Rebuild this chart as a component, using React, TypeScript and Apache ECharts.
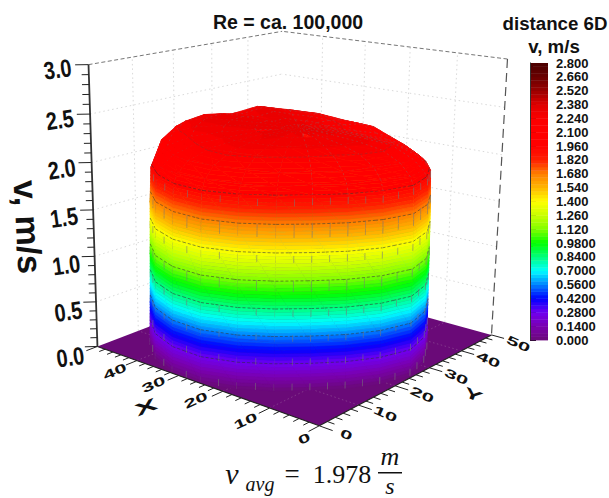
import React, { useEffect, useRef } from "react";
import * as echarts from "echarts";

const FONT = "'Liberation Sans', Arial, sans-serif";
const SERIF = "'Liberation Serif', 'DejaVu Serif', serif";

const titleText = "Re = ca. 100,000";
const legendTitle = ["distance 6D", "v, m/s"];
const zAxisLabel = "v, m/s";
const legendTicks = ["0.000","0.1400","0.2800","0.4200","0.5600","0.7000","0.8400","0.9800","1.120","1.260","1.400","1.540","1.680","1.820","1.960","2.100","2.240","2.380","2.520","2.660","2.800"];
const xTicksShown = [0, 10, 20, 30, 40];
const xLabelShift = [[-15, 13], [-24, 13], [-27, 9], [-25, 9], [-22, 11]];
const yTicksShown = [0, 10, 20, 30, 40, 50];
const zTicks = [0, 0.5, 1, 1.5, 2, 2.5, 3];

// colour scale
const scaleStops = [0, 0.14, 0.28, 0.42, 0.56, 0.7, 0.84, 0.98, 1.12, 1.26, 1.4, 1.54, 1.68, 1.82, 1.96, 2.1, 2.24, 2.38, 2.52, 2.66, 2.8];
const scaleColors = ["#6a0a78","#7a00b0","#7000f0","#0000ff","#0080ff","#00ffff","#00ff80","#00ff00","#80ff00","#c8ff00","#ffff00","#ffb800","#ff8000","#ff2000","#ff0000","#ff0000","#fc0000","#e00000","#9a0000","#6a0000","#4a0000"];

// surface: polar mesh around the pipe axis (angle step 15 deg)
const centre = [25, 25];
const angleStep = 15;
const outlineRadius = [25.2,25.2,25.2,25.2,25,24.8,24.4,23.4,22.6,22.3,22.7,23.4,24,23,22,21.5,22,23.2,24.5,25.2,25.5,25.6,25.3,25.2];
const ringFractions = [1.02, 1.012, 1.006, 1.0, 0.99, 0.96, 0.88, 0.72, 0.52, 0.3, 0.12, 0];
const heightRows = [
  [0,0,0,0,0,0,0,0,0,0,0,0,0,0,0,0,0,0,0,0,0,0,0,0],
  [0.50,0.50,0.50,0.50,0.50,0.50,0.50,0.52,0.52,0.50,0.50,0.52,0.52,0.50,0.50,0.50,0.50,0.52,0.50,0.50,0.50,0.48,0.48,0.50],
  [1.05,1.05,1.05,1.05,1.05,1.05,1.04,1.04,1.05,1.06,1.06,1.06,1.05,1.04,1.05,1.05,1.05,1.06,1.05,1.04,1.04,1.02,1.03,1.05],
  [1.62,1.62,1.62,1.62,1.60,1.60,1.60,1.58,1.58,1.60,1.60,1.62,1.62,1.60,1.62,1.62,1.60,1.62,1.62,1.60,1.58,1.58,1.60,1.62],
  [2.13,2.09,2.15,2.12,2.08,2.03,1.96,1.96,1.94,1.94,1.94,1.94,1.95,1.96,1.95,1.96,1.95,1.96,1.97,1.96,1.93,1.94,2.02,2.09],
  [2.22,2.15,2.22,2.18,2.14,2.07,2.04,1.99,1.97,1.98,2.00,2.02,2.04,2.06,2.04,2.05,2.03,2.05,2.06,2.05,2.02,2.04,2.14,2.20],
  [2.28,2.23,2.29,2.24,2.20,2.14,2.12,2.06,2.05,2.06,2.09,2.12,2.15,2.16,2.14,2.15,2.14,2.16,2.17,2.16,2.14,2.16,2.22,2.27],
  [2.32,2.28,2.33,2.28,2.25,2.20,2.19,2.14,2.13,2.15,2.19,2.24,2.25,2.24,2.23,2.24,2.24,2.25,2.26,2.25,2.24,2.25,2.29,2.32],
  [2.33,2.30,2.34,2.30,2.28,2.25,2.23,2.20,2.20,2.22,2.25,2.28,2.29,2.28,2.28,2.29,2.28,2.29,2.30,2.29,2.28,2.29,2.31,2.33],
  [2.33,2.31,2.33,2.31,2.30,2.29,2.27,2.27,2.27,2.28,2.30,2.31,2.31,2.30,2.31,2.31,2.30,2.31,2.32,2.31,2.31,2.31,2.32,2.33],
  [2.32,2.31,2.32,2.31,2.32,2.31,2.31,2.30,2.30,2.31,2.32,2.31,2.32,2.31,2.32,2.31,2.32,2.31,2.32,2.31,2.32,2.31,2.32,2.31],
  [2.32,2.32,2.32,2.32,2.32,2.32,2.32,2.32,2.32,2.32,2.32,2.32,2.32,2.32,2.32,2.32,2.32,2.32,2.32,2.32,2.32,2.32,2.32,2.32],
];
const contourLevels = [0.28, 0.56, 0.84, 1.12, 1.4, 1.68, 1.96, 2.24];
const bandStep = 0.035;

// box corners of the 3D axes: [x, y, z] -> [screen x, screen y]
const calibration = [
  [0, 0, 0, 318, 427],
  [50, 0, 0, 99, 346],
  [0, 50, 0, 493, 333],
  [50, 50, 0, 278, 278],
  [50, 0, 3, 88, 64],
  [0, 50, 3, 507, 60],
  [50, 50, 3, 283, 31],
];

function solveProjection(): number[] {
  const n = 11;
  const M = Array.from({ length: n }, () => new Array(n + 1).fill(0));
  const add = (r: number[], b: number) => {
    for (let a = 0; a < n; a++) {
      for (let c = 0; c < n; c++) M[a][c] += r[a] * r[c];
      M[a][n] += r[a] * b;
    }
  };
  calibration.forEach(([x, y, z, u, v]) => {
    add([x, y, z, 1, 0, 0, 0, 0, -u * x, -u * y, -u * z], u);
    add([0, 0, 0, 0, x, y, z, 1, -v * x, -v * y, -v * z], v);
  });
  for (let i = 0; i < n; i++) {
    let p = i;
    for (let r = i + 1; r < n; r++) if (Math.abs(M[r][i]) > Math.abs(M[p][i])) p = r;
    [M[i], M[p]] = [M[p], M[i]];
    for (let r = 0; r < n; r++) {
      if (r === i) continue;
      const f = M[r][i] / M[i][i];
      for (let c = i; c <= n; c++) M[r][c] -= f * M[i][c];
    }
  }
  return M.map((row, i) => row[n] / row[i]);
}
const H = solveProjection();
const project = (x: number, y: number, z: number) => {
  const w = H[8] * x + H[9] * y + H[10] * z + 1;
  return [
    (H[0] * x + H[1] * y + H[2] * z + H[3]) / w,
    (H[4] * x + H[5] * y + H[6] * z + H[7]) / w,
  ];
};

function hexToRgb(h: string) {
  return [parseInt(h.slice(1, 3), 16), parseInt(h.slice(3, 5), 16), parseInt(h.slice(5, 7), 16)];
}
function colourAt(v: number) {
  let k = 0;
  while (k < scaleStops.length - 2 && v > scaleStops[k + 1]) k++;
  const t = Math.max(0, Math.min(1, (v - scaleStops[k]) / (scaleStops[k + 1] - scaleStops[k])));
  const a = hexToRgb(scaleColors[k]);
  const b = hexToRgb(scaleColors[k + 1]);
  return `rgb(${a.map((c, i) => Math.round(c + (b[i] - c) * t)).join(",")})`;
}

type P3 = number[];
function meshPoint(i: number, j: number): P3 {
  const a = ((i % 24) * angleStep * Math.PI) / 180;
  const r = outlineRadius[i % 24] * ringFractions[j];
  return [centre[0] + r * Math.cos(a), centre[1] + r * Math.sin(a), heightRows[j][i % 24]];
}
function clipZ(poly: P3[], level: number, keepAbove: boolean): P3[] {
  const out: P3[] = [];
  for (let k = 0; k < poly.length; k++) {
    const a = poly[k];
    const b = poly[(k + 1) % poly.length];
    const ina = keepAbove ? a[2] >= level : a[2] <= level;
    const inb = keepAbove ? b[2] >= level : b[2] <= level;
    if (ina) out.push(a);
    if (ina !== inb) {
      const t = (level - a[2]) / (b[2] - a[2]);
      out.push([a[0] + (b[0] - a[0]) * t, a[1] + (b[1] - a[1]) * t, level]);
    }
  }
  return out;
}
function contourSegment(tri: P3[], level: number): number[][] | null {
  const pts: number[][] = [];
  for (let k = 0; k < 3; k++) {
    const a = tri[k];
    const b = tri[(k + 1) % 3];
    if ((a[2] < level) !== (b[2] < level)) {
      const t = (level - a[2]) / (b[2] - a[2]);
      pts.push(project(a[0] + (b[0] - a[0]) * t, a[1] + (b[1] - a[1]) * t, level));
    }
  }
  return pts.length === 2 ? pts : null;
}

const cells: { i: number; j: number; depth: number }[] = [];
for (let j = 0; j < ringFractions.length - 1; j++) {
  for (let i = 0; i < heightRows[0].length; i++) {
    const q = [meshPoint(i, j), meshPoint(i + 1, j), meshPoint(i + 1, j + 1), meshPoint(i, j + 1)];
    const depth = q.reduce((s, p) => s + p[0] + p[1], 0) / 4;
    cells.push({ i, j, depth });
  }
}
cells.sort((a, b) => b.depth - a.depth);

function renderCell(params: any) {
  const { i, j } = cells[params.dataIndex];
  const a = meshPoint(i, j);
  const b = meshPoint(i + 1, j);
  const c = meshPoint(i + 1, j + 1);
  const d = meshPoint(i, j + 1);
  const children: any[] = [];
  [[a, b, c], [a, c, d]].forEach((tri) => {
    const zs = tri.map((p) => p[2]);
    const lo = Math.floor(Math.min(...zs) / bandStep);
    const hi = Math.ceil(Math.max(...zs) / bandStep);
    for (let k = lo; k < hi; k++) {
      const z0 = k * bandStep;
      const z1 = z0 + bandStep;
      const poly = clipZ(clipZ(tri, z0, true), z1, false);
      if (poly.length < 3) continue;
      const col = colourAt((z0 + z1) / 2);
      children.push({
        type: "polygon",
        silent: true,
        shape: { points: poly.map((p) => project(p[0], p[1], p[2])) },
        style: { fill: col, stroke: col, lineWidth: 0.5 },
      });
    }
  });
  [[a, b, c], [a, c, d]].forEach((tri) => {
    contourLevels.forEach((l) => {
      const seg = contourSegment(tri, l);
      if (seg) {
        children.push({
          type: "line",
          silent: true,
          shape: { x1: seg[0][0], y1: seg[0][1], x2: seg[1][0], y2: seg[1][1] },
          style: { stroke: l > 2 ? "rgba(110,60,60,0.5)" : "rgba(50,50,50,0.75)", lineWidth: 0.7, lineDash: [3, 2] },
        });
      }
    });
  });
  // mesh lines
  const pa = project(a[0], a[1], a[2]);
  const pd = project(d[0], d[1], d[2]);
  const pb = project(b[0], b[1], b[2]);
  const onWall = j < 4;
  children.push({
    type: "line",
    silent: true,
    shape: { x1: pa[0], y1: pa[1], x2: pd[0], y2: pd[1] },
    style: { stroke: "rgba(120,120,120,0.65)", lineWidth: onWall ? 0.9 : 0.5, lineDash: onWall ? [7, 18] : [2, 3] },
  });
  if (!onWall) {
    children.push({
      type: "line",
      silent: true,
      shape: { x1: pa[0], y1: pa[1], x2: pb[0], y2: pb[1] },
      style: { stroke: "rgba(120,120,120,0.55)", lineWidth: 0.5, lineDash: [2, 3] },
    });
  } else {
    const mid1 = [(a[0] + b[0]) / 2, (a[1] + b[1]) / 2, (a[2] + b[2]) / 2];
    const mid2 = [(d[0] + c[0]) / 2, (d[1] + c[1]) / 2, (d[2] + c[2]) / 2];
    const m1 = project(mid1[0], mid1[1], mid1[2]);
    const m2 = project(mid2[0], mid2[1], mid2[2]);
    children.push({
      type: "line",
      silent: true,
      shape: { x1: m1[0], y1: m1[1], x2: m2[0], y2: m2[1] },
      style: { stroke: "rgba(120,120,120,0.6)", lineWidth: 0.9, lineDash: [7, 18] },
    });
  }
  return { type: "group", children };
}

const line3 = (a: number[], b: number[], style: any) => {
  const p = project(a[0], a[1], a[2]);
  const q = project(b[0], b[1], b[2]);
  return { type: "line", silent: true, shape: { x1: p[0], y1: p[1], x2: q[0], y2: q[1] }, style };
};

function renderBox() {
  const children: any[] = [];
  const floor = [[0, 0, 0], [50, 0, 0], [50, 50, 0], [0, 50, 0]].map((p) => project(p[0], p[1], p[2]));
  const grid = { stroke: "#cfcfcf", lineWidth: 0.8, lineDash: [1.5, 3] };
  for (let z = 0.5; z < 3; z += 0.5) {
    children.push(line3([50, 0, z], [50, 50, z], grid));
    children.push(line3([0, 50, z], [50, 50, z], grid));
  }
  for (let v = 10; v < 50; v += 10) {
    children.push(line3([50, v, 0], [50, v, 3], grid));
    children.push(line3([v, 50, 0], [v, 50, 3], grid));
  }
  children.push({ type: "polygon", silent: true, shape: { points: floor }, style: { fill: "#6a0a78" } });
  const floorGrid = { stroke: "rgba(170,130,170,0.55)", lineWidth: 0.7, lineDash: [1.5, 2.5] };
  for (let v = 10; v < 50; v += 10) {
    children.push(line3([v, 0, 0], [v, 50, 0], floorGrid));
    children.push(line3([0, v, 0], [50, v, 0], floorGrid));
  }
  const dash = { stroke: "#666", lineWidth: 0.9, lineDash: [4, 2.5] };
  children.push(line3([50, 0, 3], [50, 50, 3], dash));
  children.push(line3([0, 50, 3], [50, 50, 3], dash));
  children.push(line3([0, 50, 3], [0, 50, 0], { stroke: "#555", lineWidth: 1.2, lineDash: [9, 5] }));
  return { type: "group", children };
}

function renderAxes() {
  const children: any[] = [];
  const dark = { stroke: "#222", lineWidth: 1 };
  children.push(line3([0, 0, 0], [50, 0, 0], { stroke: "#222", lineWidth: 1.2 }));
  children.push(line3([0, 0, 0], [0, 50, 0], { stroke: "#222", lineWidth: 1.2 }));
  children.push(line3([50, 0, 0], [50, 0, 3], { stroke: "#333", lineWidth: 1.8 }));
  for (let v = 0; v <= 50; v += 2) {
    const major = v % 10 === 0;
    const len = major ? 2.6 : 1.4;
    children.push(line3([v, 0, 0], [v, -len, 0], dark));
    children.push(line3([0, v, 0], [-len, v, 0], dark));
  }
  for (let k = 0; k <= 30; k++) {
    const z = k / 10;
    const len = k % 5 === 0 ? 2.6 : 1.4;
    children.push(line3([50, 0, z], [50 + len * 0.6, -len * 0.6, z], dark));
  }
  const label = (t: string, x: number, y: number, rot: number, sx: number, sy: number, size: number) => ({
    type: "text",
    silent: true,
    x,
    y,
    rotation: (rot * Math.PI) / 180,
    scaleX: sx,
    scaleY: sy,
    style: { text: t, fill: "#111", fontFamily: FONT, fontWeight: "bold", fontSize: size, align: "center", verticalAlign: "middle", textAlign: "center", textVerticalAlign: "middle" },
  });
  xTicksShown.forEach((v, n) => {
    const p = project(v, 0, 0);
    children.push(label(String(v), p[0] + xLabelShift[n][0], p[1] + xLabelShift[n][1], 24, 1.3, 0.72, 17));
  });
  yTicksShown.forEach((v) => {
    const p = project(0, v, 0);
    children.push(label(String(v), p[0] + 27, p[1] + 9, -24, 1.3, 0.72, 17));
  });
  zTicks.forEach((v) => {
    const p = project(50, 0, v);
    children.push(label(v.toFixed(1), p[0] - 27 - v * 1.33, p[1] + 11 - v * 2, 8, 1, 1.25, 20));
  });
  return { type: "group", children };
}

const graphicText = (text: string, x: number, y: number, font: any, extra: any = {}) => ({
  type: "text",
  x,
  y,
  silent: true,
  ...extra,
  style: { text, fill: "#111", align: "center", verticalAlign: "middle", textAlign: "center", textVerticalAlign: "middle", ...font },
});

export default function App() {
  const ref = useRef<HTMLDivElement>(null);
  useEffect(() => {
    document.body.style.margin = "0";
    const chart = echarts.init(ref.current!, undefined, { renderer: "svg" });
    const bands: number[][] = [];
    for (let k = 0; k < 80; k++) bands.push([k * bandStep, (k + 1) * bandStep]);
    const bold = (s: number) => ({ fontFamily: FONT, fontWeight: "bold", fontSize: s });
    chart.setOption({
      animation: false,
      backgroundColor: "#fff",
      grid: { left: 530, top: 63, width: 18, height: 277, containLabel: false },
      xAxis: { type: "value", min: 0, max: 1, show: false },
      yAxis: {
        type: "value",
        position: "right",
        min: 0,
        max: 2.8,
        interval: 0.14,
        axisLine: { show: true, lineStyle: { color: "#111", width: 1 } },
        axisTick: { show: true, length: 6, inside: false, lineStyle: { color: "#111" } },
        minorTick: { show: true, splitNumber: 5, length: 3, lineStyle: { color: "#111" } },
        splitLine: { show: false },
        axisLabel: {
          show: true,
          margin: 8,
          fontFamily: FONT,
          fontWeight: "bold",
          fontSize: 13,
          lineHeight: 13,
          color: "#111",
          formatter: (_v: number, idx: number) => legendTicks[idx],
        },
      },
      series: [
        { type: "custom", coordinateSystem: "none", z: 1, silent: true, clip: false, progressive: 0, data: [0], renderItem: renderBox },
        { type: "custom", coordinateSystem: "none", z: 2, silent: true, clip: false, progressive: 0, data: cells.map((c) => [c.i, c.j, c.depth]), renderItem: renderCell },
        { type: "custom", coordinateSystem: "none", z: 3, silent: true, clip: false, progressive: 0, data: [0], renderItem: renderAxes },
        {
          type: "custom",
          coordinateSystem: "cartesian2d",
          z: 4,
          silent: true,
          progressive: 0,
          data: bands,
          encode: { y: [0, 1] },
          renderItem: (params: any, api: any) => {
            const lo = api.value(0);
            const hi = api.value(1);
            const p = api.coord([0, hi]);
            const q = api.coord([1, lo]);
            return { type: "rect", shape: { x: p[0], y: p[1], width: q[0] - p[0], height: q[1] - p[1] + 0.4 }, style: { fill: colourAt((lo + hi) / 2) } };
          },
        },
      ],
      graphic: [
        graphicText(titleText, 288, 22, bold(19.5)),
        graphicText(legendTitle[0], 555, 23, bold(18.7)),
        graphicText(legendTitle[1], 554, 46, bold(18.7)),
        graphicText(zAxisLabel, 28, 227, bold(34), { rotation: (-87 * Math.PI) / 180 }),
        graphicText("X", 146, 407, bold(24), { rotation: (22 * Math.PI) / 180, scaleX: 1.4, scaleY: 0.7 }),
        graphicText("Y", 473, 395, bold(22), { rotation: (-22 * Math.PI) / 180, scaleX: 1.3, scaleY: 0.65 }),
        graphicText("v", 232, 473, { fontFamily: SERIF, fontStyle: "italic", fontSize: 30 }),
        graphicText("avg", 260, 484, { fontFamily: SERIF, fontStyle: "italic", fontSize: 20 }),
        graphicText("=", 292, 474, { fontFamily: SERIF, fontSize: 27 }),
        graphicText("1.978", 342, 474, { fontFamily: SERIF, fontSize: 26 }),
        graphicText("m", 390, 456, { fontFamily: SERIF, fontStyle: "italic", fontSize: 26 }),
        { type: "rect", silent: true, shape: { x: 378, y: 472, width: 24, height: 1.5 }, style: { fill: "#111" } },
        graphicText("s", 390, 486, { fontFamily: SERIF, fontStyle: "italic", fontSize: 24 }),
        { type: "rect", silent: true, z: 10, shape: { x: 530, y: 63, width: 1, height: 277 }, style: { fill: "#333" } },
      ],
    });
    return () => chart.dispose();
  }, []);
  return <div ref={ref} style={{ position: "absolute", left: 0, top: 0, width: 609, height: 498 }} />;
}
